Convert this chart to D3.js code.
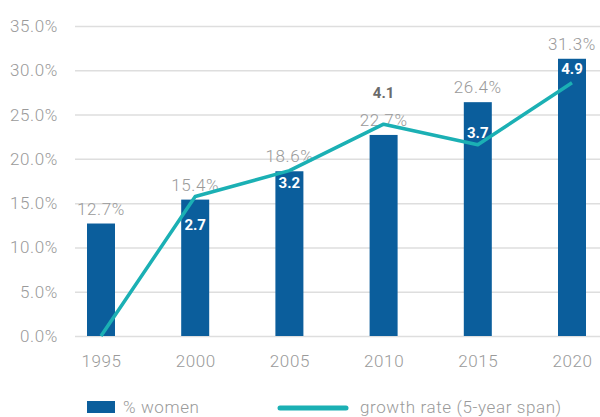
<!DOCTYPE html>
<html>
<head>
<meta charset="utf-8">
<script src="https://cdn.jsdelivr.net/npm/d3@7"></script>
<style>
  html, body { margin: 0; padding: 0; background: #fff; }
  svg { display: block; font-family: Roboto, "Noto Sans", sans-serif; }
</style>
</head>
<body>
<svg id="chart" width="600" height="417"></svg>
<script>
// Share of women and its 5-year growth rate
const years = ["1995", "2000", "2005", "2010", "2015", "2020"];
const womenPct = [12.7, 15.4, 18.6, 22.7, 26.4, 31.3];
const growthRate = [0, 2.7, 3.2, 4.1, 3.7, 4.9];
const growthLabels = [null, "2.7", "3.2", "4.1", "3.7", "4.9"];
const yTicks = [0, 5, 10, 15, 20, 25, 30, 35];
const legendLabels = ["% women", "growth rate (5-year span)"];

// Layout
const barColor = "#0b5e9c";
const lineColor = "#1bb0b4";
const textGrey = "#9a9a9a";
const gridColor = "#dedede";
const plotLeft = 75, plotRight = 600, plotTop = 26, plotBottom = 336;
const barWidth = 28;
const fontSize = 17, letterSpacing = 0.6;
// vertical nudge of each growth label from its line vertex, and whether it sits on a bar
const growthLabelDy = [0, 28, 12, -31, -12, -14];
const growthLabelOnBar = [false, true, true, false, true, true];

const svg = d3.select("#chart");

const x = d3.scalePoint().domain(years).range([101, 572]);
const y = d3.scaleLinear().domain([0, 35]).range([plotBottom, plotTop]);
const y2 = d3.scaleLinear().domain([0, 6]).range([plotBottom, plotTop]);

function lightText(sel) {
  sel.attr("fill", textGrey)
    .attr("font-size", fontSize)
    .attr("font-weight", 300)
    .attr("font-family", "Roboto, sans-serif")
    .attr("letter-spacing", letterSpacing);
}

// Gridlines and left axis labels
const yAxis = d3.axisLeft(y)
  .tickValues(yTicks)
  .tickSize(-(plotRight - plotLeft))
  .tickPadding(17)
  .tickFormat(d => d.toFixed(1) + "%");
const gy = svg.append("g").attr("transform", `translate(${plotLeft},0)`).call(yAxis);
gy.select(".domain").remove();
gy.selectAll(".tick line").attr("stroke", gridColor).attr("stroke-width", 1.5);
gy.selectAll(".tick text").call(lightText);

// Year labels
const xAxis = d3.axisBottom(x).tickSize(0).tickPadding(19);
const gx = svg.append("g").attr("transform", `translate(0,${plotBottom})`).call(xAxis);
gx.select(".domain").remove();
gx.selectAll(".tick text").call(lightText);

// Bars
const series = years.map((yr, i) => ({ yr, pct: womenPct[i], g: growthRate[i], gl: growthLabels[i], i }));

svg.append("g").selectAll("rect").data(series).join("rect")
  .attr("x", d => x(d.yr) - barWidth / 2)
  .attr("y", d => y(d.pct))
  .attr("width", barWidth)
  .attr("height", d => y(0) - y(d.pct))
  .attr("fill", barColor);

// Bar value labels
svg.append("g").selectAll("text").data(series).join("text")
  .attr("x", d => x(d.yr))
  .attr("y", d => y(d.pct) - 9)
  .attr("text-anchor", "middle")
  .call(lightText)
  .text(d => d.pct.toFixed(1) + "%");

// Growth rate line
const line = d3.line().x(d => x(d.yr)).y(d => y2(d.g));
svg.append("path")
  .datum(series)
  .attr("d", line)
  .attr("fill", "none")
  .attr("stroke", lineColor)
  .attr("stroke-width", 3.5)
  .attr("stroke-linejoin", "round");

// Growth rate labels
svg.append("g").selectAll("text").data(series.filter(d => d.gl)).join("text")
  .attr("x", d => x(d.yr))
  .attr("y", d => y2(d.g) + growthLabelDy[d.i])
  .attr("dy", "0.35em")
  .attr("text-anchor", "middle")
  .attr("fill", d => growthLabelOnBar[d.i] ? "#ffffff" : "#6b6b6b")
  .attr("font-size", 15)
  .attr("font-weight", 700)
  .text(d => d.gl);

// Legend
const lg = svg.append("g");
lg.append("rect").attr("x", 87).attr("y", 401).attr("width", 28).attr("height", 12).attr("fill", barColor);
lg.append("text").attr("x", 123).attr("y", 407).attr("dy", "0.35em")
  .call(lightText).text(legendLabels[0]);
lg.append("line").attr("x1", 280).attr("x2", 346).attr("y1", 408).attr("y2", 408)
  .attr("stroke", lineColor).attr("stroke-width", 5).attr("stroke-linecap", "round");
lg.append("text").attr("x", 360).attr("y", 407).attr("dy", "0.35em")
  .call(lightText).text(legendLabels[1]);
</script>
</body>
</html>
